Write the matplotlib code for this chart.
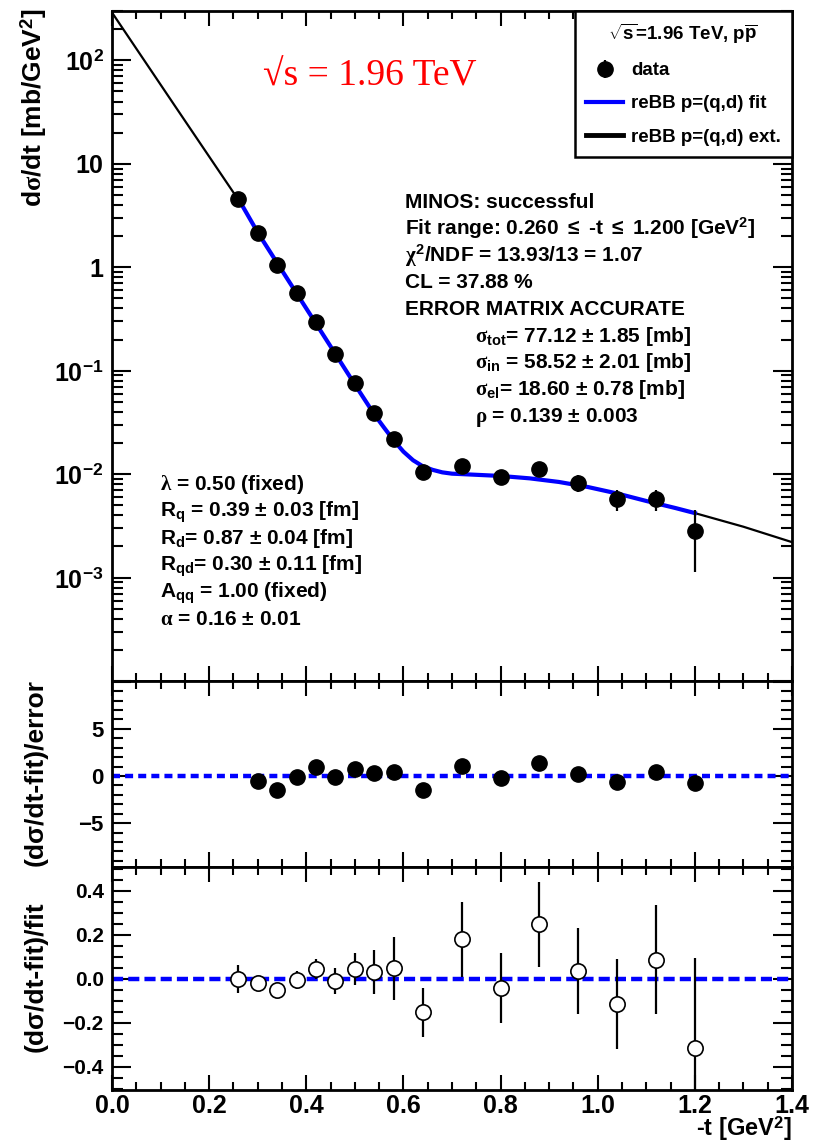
import matplotlib
matplotlib.use('Agg')
import matplotlib.pyplot as plt
from matplotlib.lines import Line2D
from matplotlib.ticker import MultipleLocator, LogLocator, FuncFormatter, NullFormatter

plt.rcParams['font.family'] = ['Liberation Sans', 'DejaVu Sans']
plt.rcParams['font.weight'] = 'bold'
plt.rcParams['mathtext.fontset'] = 'custom'
plt.rcParams['mathtext.rm'] = 'Liberation Sans:bold'
plt.rcParams['mathtext.bf'] = 'Liberation Sans:bold'
plt.rcParams['mathtext.sf'] = 'Liberation Sans:bold'
plt.rcParams['mathtext.it'] = 'Liberation Serif'

# measured points, -t in GeV^2
t = [0.26, 0.30, 0.34, 0.38, 0.42, 0.46, 0.50, 0.54, 0.58,
     0.64, 0.72, 0.80, 0.88, 0.96, 1.04, 1.12, 1.20]
dsdt = [4.6, 2.13, 1.05, 0.56, 0.294, 0.144, 0.0757, 0.0389, 0.0218,
        0.01045, 0.01194, 0.00935, 0.01117, 0.00818, 0.00573, 0.00573, 0.00281]
# (data-fit)/fit and its relative error (lower panel)
res_rel = [0.0, -0.02, -0.05, -0.005, 0.045, -0.008, 0.045, 0.03, 0.048,
           -0.152, 0.181, -0.042, 0.249, 0.036, -0.115, 0.088, -0.314]
err_rel = [0.063, 0.03, 0.03, 0.04, 0.045, 0.06, 0.072, 0.10, 0.143,
           0.11, 0.17, 0.158, 0.194, 0.194, 0.204, 0.248, 0.41]
# (data-fit)/error (middle panel)
pull_t = [0.30, 0.34, 0.38, 0.42, 0.46, 0.50, 0.54, 0.58,
          0.64, 0.72, 0.80, 0.88, 0.96, 1.04, 1.12, 1.20]
pull = [-0.53, -1.47, -0.1, 0.95, -0.1, 0.7, 0.35, 0.42,
        -1.47, 1.05, -0.25, 1.33, 0.25, -0.63, 0.46, -0.77]

# reBB curve
fit_t = [0.26, 0.30, 0.34, 0.38, 0.42, 0.46, 0.50, 0.54, 0.56, 0.58, 0.60, 0.62,
         0.64, 0.66, 0.68, 0.70, 0.74, 0.80, 0.86, 0.92, 0.98, 1.04, 1.10, 1.16, 1.20]
fit_y = [4.6, 2.17, 1.10, 0.56, 0.285, 0.145, 0.0735, 0.0378, 0.0282, 0.0212, 0.0165, 0.0136,
         0.0119, 0.0110, 0.0104, 0.0101, 0.0099, 0.0096, 0.0091, 0.0084, 0.0075, 0.0065,
         0.0055, 0.0047, 0.0042]
ext_lo_t = [0.0, 0.13, 0.26]
ext_lo_y = [290.0, 36.0, 4.5]
ext_hi_t = [1.20, 1.30, 1.40]
ext_hi_y = [0.0042, 0.0031, 0.0022]

W, H = 833, 1144
L, R = 112, 792


def rect(top, bottom):
    return [L / W, 1 - bottom / H, (R - L) / W, (bottom - top) / H]


def fx(px):
    return px / W


def fy(py):
    return 1 - py / H


def style(ax, ylab_size):
    for s in ax.spines.values():
        s.set_linewidth(2.0)
    ax.tick_params(which='both', direction='in', top=True, right=True, width=1.5)
    ax.tick_params(axis='y', which='major', length=14, labelsize=ylab_size, pad=6)
    ax.tick_params(axis='y', which='minor', length=8)
    ax.tick_params(axis='x', which='major', length=11, labelsize=18, pad=3)
    ax.tick_params(axis='x', which='minor', length=6)
    ax.set_xlim(0, 1.4)
    ax.xaxis.set_major_locator(MultipleLocator(0.2))
    ax.xaxis.set_minor_locator(MultipleLocator(0.05))


def minus(v, fmt, vmax=None):
    if vmax is not None and abs(v) > vmax:
        return ''
    s = fmt % v
    if float(s) == 0:
        s = fmt % 0.0
    return s.replace('-', '\u2212')


fig = plt.figure(figsize=(W / 100, H / 100), dpi=100)
ax1 = fig.add_axes(rect(11, 681))
ax2 = fig.add_axes(rect(681, 867))
ax3 = fig.add_axes(rect(867, 1090))

fit_at = [d / (1 + r) for d, r in zip(dsdt, res_rel)]
err_abs = [e * f for e, f in zip(err_rel, fit_at)]

# main panel
ax1.set_yscale('log')
ax1.plot(ext_lo_t, ext_lo_y, color='black', lw=1.6, zorder=2)
ax1.plot(ext_hi_t, ext_hi_y, color='black', lw=1.6, zorder=2)
ax1.plot(fit_t, fit_y, color='#0000ff', lw=3.0, zorder=3)
h_data = ax1.errorbar(t, dsdt, yerr=err_abs, fmt='o', color='black', ms=11,
                      elinewidth=1.6, capsize=0, zorder=4)
ax1.set_ylim(1e-4, 300)
style(ax1, 18)
ax1.xaxis.set_major_formatter(NullFormatter())
ax1.yaxis.set_major_locator(LogLocator(base=10, numticks=20))
ax1.yaxis.set_minor_locator(LogLocator(base=10, subs=range(2, 10), numticks=20))
ax1.yaxis.set_minor_formatter(NullFormatter())
ylabels = {2: r'$10^{2}$', 1: '10', 0: '1', -1: r'$10^{-1}$', -2: r'$10^{-2}$', -3: r'$10^{-3}$'}


def logfmt(v, pos):
    import math
    k = int(round(math.log10(v)))
    return ylabels.get(k, '')


ax1.yaxis.set_major_formatter(FuncFormatter(logfmt))

leg = ax1.legend([h_data, Line2D([], [], color='#0000ff', lw=3.0),
                  Line2D([], [], color='black', lw=3.5)],
                 ['data', 'reBB p=(q,d) fit', 'reBB p=(q,d) ext.'],
                 title=r'$\sqrt{\rm s}$=1.96 TeV, p$\overline{\rm p}$',
                 loc='upper right', bbox_to_anchor=(1.0, 1.0), borderaxespad=0.0,
                 fontsize=13.5, title_fontsize=13.5, frameon=True, fancybox=False,
                 edgecolor='black', framealpha=1.0, handlelength=2.0,
                 handletextpad=0.4, labelspacing=0.85, borderpad=0.6)
leg.get_frame().set_linewidth(1.8)

# red energy label (serif, regular weight)
fig.text(fx(263), fy(76), '\u221as = 1.96 TeV', color='red', fontsize=27,
         fontweight='normal', family=['Liberation Serif', 'DejaVu Serif'],
         ha='left', va='center')

right_lines = ['MINOS: successful',
               r'Fit range: 0.260 $\leq$ -t $\leq$ 1.200 [GeV$^{2}$]',
               r'$\chi^{2}$/NDF = 13.93/13 = 1.07',
               'CL = 37.88 %',
               'ERROR MATRIX ACCURATE',
               r'$\sigma_{\rm tot}$= 77.12 $\pm$ 1.85 [mb]',
               r'$\sigma_{\rm in}$ = 58.52 $\pm$ 2.01 [mb]',
               r'$\sigma_{\rm el}$= 18.60 $\pm$ 0.78 [mb]',
               r'$\rho$ = 0.139 $\pm$ 0.003']
for i, s in enumerate(right_lines):
    x = 405 if i < 5 else 475
    fig.text(fx(x), fy(201 + 26.7 * i + 7), s, fontsize=15, ha='left', va='baseline')

left_lines = [r'$\lambda$ = 0.50 (fixed)',
              r'R$_{\rm q}$ = 0.39 $\pm$ 0.03 [fm]',
              r'R$_{\rm d}$= 0.87 $\pm$ 0.04 [fm]',
              r'R$_{\rm qd}$= 0.30 $\pm$ 0.11 [fm]',
              r'A$_{\rm qq}$ = 1.00 (fixed)',
              r'$\alpha$ = 0.16 $\pm$ 0.01']
for i, s in enumerate(left_lines):
    fig.text(fx(160), fy(483 + 27 * i + 7), s, fontsize=15, ha='left', va='baseline')

# middle panel: pulls
ax2.axhline(0, color='#0000ff', lw=3.2, dashes=(1.8, 1.15), zorder=2)
ax2.plot(pull_t, pull, 'o', color='black', ms=11, zorder=3)
ax2.set_ylim(-9.65, 10.07)
style(ax2, 16)
ax2.yaxis.set_major_locator(MultipleLocator(5))
ax2.yaxis.set_minor_locator(MultipleLocator(1))
ax2.yaxis.set_major_formatter(FuncFormatter(lambda v, p: minus(v, '%d', 9)))
ax2.xaxis.set_major_formatter(NullFormatter())

# bottom panel: relative residuals
ax3.axhline(0, color='#0000ff', lw=3.2, dashes=(2.5, 1.15), zorder=2)
ax3.errorbar(t, res_rel, yerr=err_rel, fmt='none', ecolor='black', elinewidth=1.6,
             capsize=0, zorder=3)
ax3.plot(t, res_rel, 'o', mfc='white', mec='black', mew=1.2, ms=11, zorder=4)
ax3.set_ylim(-0.505, 0.509)
style(ax3, 15)
ax3.yaxis.set_major_locator(MultipleLocator(0.2))
ax3.yaxis.set_minor_locator(MultipleLocator(0.05))
ax3.yaxis.set_major_formatter(FuncFormatter(lambda v, p: minus(v, '%.1f')))
ax3.xaxis.set_major_formatter(FuncFormatter(lambda v, p: '%.1f' % v))

# axis titles
fig.text(fx(34), fy(8), r'd$\sigma$/dt [mb/GeV$^{2}$]', rotation=90, fontsize=19,
         ha='center', va='top')
fig.text(fx(36), fy(773), 'd\u03c3'.join(['(', '/dt-fit)/error']), rotation=90,
         fontsize=19, ha='center', va='center')
fig.text(fx(36), fy(977), 'd\u03c3'.join(['(', '/dt-fit)/fit']), rotation=90,
         fontsize=19, ha='center', va='center')
fig.text(fx(792), fy(1143), r'-t [GeV$^{2}$]', fontsize=17, ha='right', va='bottom')

fig.savefig('out.png', dpi=100)
